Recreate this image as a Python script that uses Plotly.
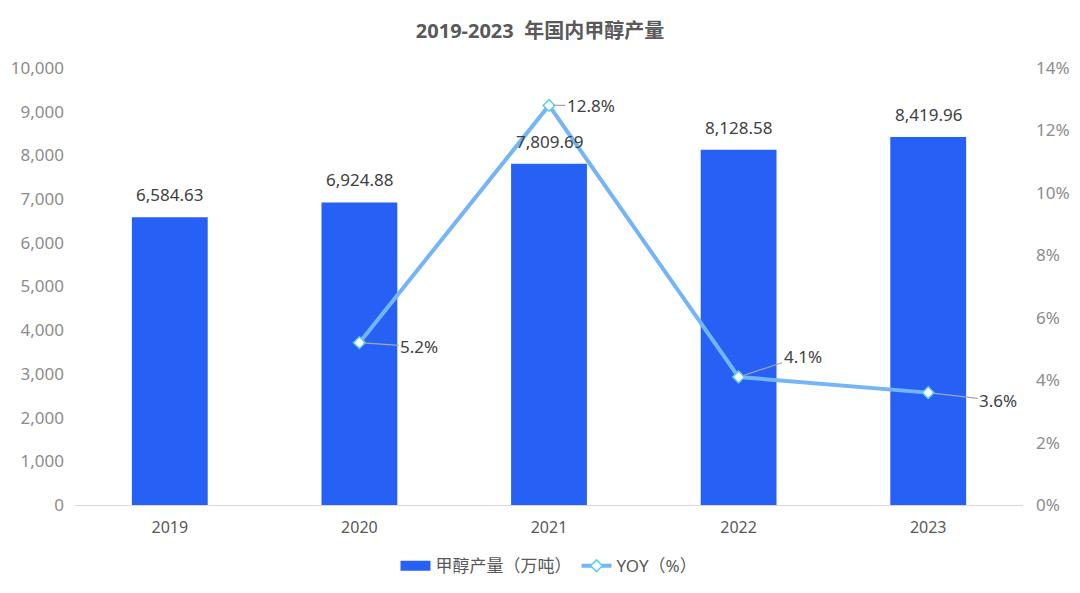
import plotly.graph_objects as go

years = ["2019", "2020", "2021", "2022", "2023"]
production = [6584.63, 6924.88, 7809.69, 8128.58, 8419.96]
yoy_years = ["2020", "2021", "2022", "2023"]
yoy = [5.2, 12.8, 4.1, 3.6]
yoy_labels = ["5.2%", "12.8%", "4.1%", "3.6%"]
left_ticks = [0, 1000, 2000, 3000, 4000, 5000, 6000, 7000, 8000, 9000, 10000]
right_ticks = [0, 2, 4, 6, 8, 10, 12, 14]

FONT = "Noto Sans, Noto Sans CJK SC, sans-serif"
BAR_C = "#2660F5"
LINE_C = "#74B5F5"

fig = go.Figure()
fig.add_trace(go.Bar(
    x=years, y=production, name="甲醇产量（万吨）",
    marker=dict(color=BAR_C, line=dict(width=0)),
    width=0.4, showlegend=False,
))
# legend stand-in for the bar series (wide rectangle swatch)
fig.add_trace(go.Scatter(
    x=[None], y=[None], name="甲醇产量（万吨）", mode="lines",
    line=dict(color=BAR_C, width=12),
))
fig.add_trace(go.Scatter(
    x=yoy_years, y=yoy, name="YOY（%）", yaxis="y2",
    mode="lines+markers",
    line=dict(color=LINE_C, width=4),
    marker=dict(symbol="diamond", size=9, color="white",
                line=dict(color="#5CCFE6", width=1.5)),
    cliponaxis=False,
))

for i, v in enumerate(production):
    fig.add_annotation(
        x=i, y=v, xref="x", yref="y", text=f"{v:,.2f}",
        showarrow=False, yanchor="bottom", yshift=9,
        font=dict(size=17, color="#404040", family=FONT),
    )

offsets = [(60, 4), (42, 0), (64, -21), (70, 8)]
for xv, yv, lab, (ax, ay) in zip(yoy_years, yoy, yoy_labels, offsets):
    fig.add_annotation(
        x=years.index(xv), y=yv, xref="x", yref="y2", text=lab,
        showarrow=True, arrowhead=0, arrowwidth=1.2, arrowcolor="#A6A6A6",
        ax=ax, ay=ay, standoff=4,
        font=dict(size=17, color="#404040", family=FONT),
    )

fig.update_layout(
    width=1080, height=593,
    paper_bgcolor="white", plot_bgcolor="white",
    margin=dict(l=75, r=57, t=68, b=88, autoexpand=False),
    title=dict(text="<b>2019-2023  年国内甲醇产量</b>", x=0.5, xanchor="center",
               y=0.948, yanchor="middle",
               font=dict(size=20, color="#595959", family=FONT)),
    font=dict(family=FONT),
    showlegend=True,
    legend=dict(orientation="h", x=0.5, xanchor="center", y=-0.14, yanchor="middle",
                font=dict(size=17, color="#595959", family=FONT)),
    xaxis=dict(
        type="category", range=[-0.5, 4.5], automargin=False,
        showline=True, linecolor="#D9D9D9", linewidth=1,
        ticks="", ticklabelstandoff=8,
        tickfont=dict(size=16, color="#595959", family=FONT),
        showgrid=False,
    ),
    yaxis=dict(
        range=[0, 10000], tickvals=left_ticks, automargin=False,
        ticktext=[f"{v:,}" for v in left_ticks],
        showgrid=False, zeroline=False, showline=False,
        ticklabelstandoff=10,
        tickfont=dict(size=17, color="#8C8C8C", family=FONT),
    ),
    yaxis2=dict(
        overlaying="y", side="right", range=[0, 14], tickvals=right_ticks,
        automargin=False,
        ticktext=[f"{v}%" for v in right_ticks],
        showgrid=False, zeroline=False, showline=False,
        ticklabelstandoff=12,
        tickfont=dict(size=17, color="#8C8C8C", family=FONT),
    ),
)

fig.write_html("out.html")
